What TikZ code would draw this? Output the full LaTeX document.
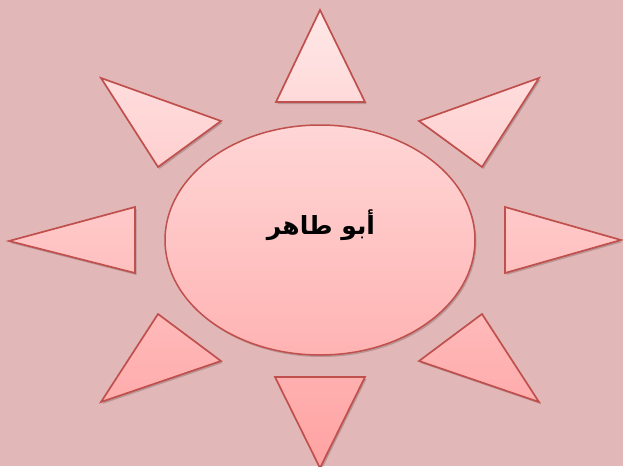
\documentclass[tikz,border=0pt]{standalone}
\usepackage{fontspec}
\usepackage{tikz}
\usetikzlibrary{shapes.geometric,shadows}
\TeXXeTstate=1
\newfontfamily\arabicfont[Script=Arabic]{DejaVu Sans}
\definecolor{cfondo}{HTML}{E2B7B7}
\definecolor{crojo}{HTML}{C0504D}
\definecolor{cclaro}{HTML}{FFE9E9}
\definecolor{coscuro}{HTML}{FFA2A2}
\tikzset{
  rayo/.style={draw=crojo, line width=1.7pt, line join=miter,
    drop shadow={shadow xshift=1.5pt, shadow yshift=-2pt, opacity=0.18, fill=black}},
  centro/.style={ellipse, draw=crojo, line width=1.5pt,
    minimum width=310pt, minimum height=230pt, inner sep=0pt,
    top color=coscuro!27!cclaro, bottom color=coscuro!76!cclaro,
    drop shadow={shadow xshift=1.5pt, shadow yshift=-2pt, opacity=0.18, fill=black}},
  etq/.style={font=\arabicfont\bfseries\fontsize{25}{30}\selectfont, text=black},
}
\begin{document}
\begin{tikzpicture}[x=1pt,y=-1pt]
  \fill[cfondo] (0,0) rectangle (623,466);
  \useasboundingbox (0,0) rectangle (623,466);
  % rayos
  \draw[rayo, top color=coscuro!2!cclaro, bottom color=coscuro!22!cclaro]
    (320,10) -- (365,102) -- (276,102) -- cycle;
  \draw[rayo, top color=coscuro!17!cclaro, bottom color=coscuro!36!cclaro]
    (101,78) -- (221,121) -- (158,167) -- cycle;
  \draw[rayo, top color=coscuro!17!cclaro, bottom color=coscuro!36!cclaro]
    (539,78) -- (419,121) -- (482,167) -- cycle;
  \draw[rayo, top color=coscuro!44!cclaro, bottom color=coscuro!59!cclaro]
    (9,241) -- (135,207) -- (135,273) -- cycle;
  \draw[rayo, top color=coscuro!44!cclaro, bottom color=coscuro!59!cclaro]
    (621,240) -- (505,207) -- (505,273) -- cycle;
  \draw[rayo, top color=coscuro!67!cclaro, bottom color=coscuro!86!cclaro]
    (158,314) -- (221,361) -- (101,402) -- cycle;
  \draw[rayo, top color=coscuro!67!cclaro, bottom color=coscuro!86!cclaro]
    (482,314) -- (419,361) -- (539,402) -- cycle;
  \draw[rayo, top color=coscuro!81!cclaro, bottom color=coscuro!100!cclaro]
    (275,377) -- (365,377) -- (320,468) -- cycle;
  % centro
  \node[centro] (sol) at (320,240) {};
  \node[etq] (nombre) at (321,225) {\beginR أبو طاهر\endR};
\end{tikzpicture}
\end{document}
